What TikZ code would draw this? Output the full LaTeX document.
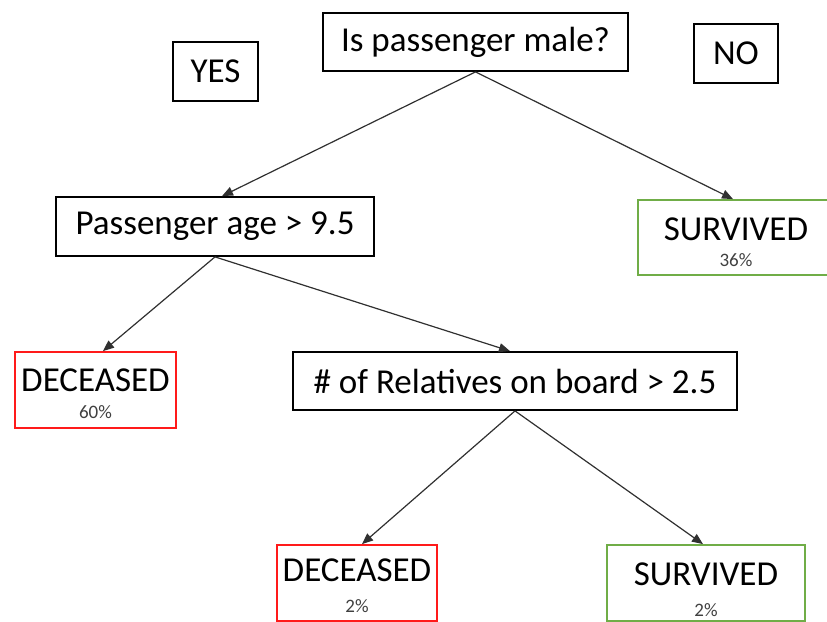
\documentclass[tikz,border=0pt]{standalone}
\usepackage{fontspec}
\setmainfont{Carlito}
\usetikzlibrary{arrows.meta}
\definecolor{boxred}{HTML}{FF1A1A}
\definecolor{boxgreen}{HTML}{70AD47}
\definecolor{pctgray}{HTML}{404040}
\definecolor{linegray}{HTML}{303030}
\tikzset{
  qbox/.style={draw=black, line width=1.8pt, inner sep=0pt, align=center,
    font=\fontsize{35}{37}\selectfont},
  leafred/.style={draw=boxred, line width=1.8pt, inner sep=0pt},
  leafgreen/.style={draw=boxgreen, line width=1.8pt, inner sep=0pt},
  leaftxt/.style={anchor=base, inner sep=0pt, font=\fontsize{35}{37}\selectfont},
  pcttxt/.style={anchor=base, inner sep=0pt, text=pctgray, font=\fontsize{19}{20}\selectfont},
  conn/.style={draw=linegray, line width=1.2pt, -{Triangle[length=11pt,width=9pt]}}
}
\begin{document}
\begin{tikzpicture}[x=1pt,y=-1pt]
\useasboundingbox (0,0) rectangle (827,621);
% question boxes
\node[qbox, minimum width=305pt, minimum height=58pt] (root) at (475.5,42) {Is passenger male?};
\node[qbox, minimum width=85pt, minimum height=59pt] (yes) at (215.5,71.5) {YES};
\node[qbox, minimum width=84pt, minimum height=59pt] (no) at (736,53.5) {NO};
\node[qbox, minimum width=318pt, minimum height=59pt] (pass) at (215,226.5) {Passenger age > 9.5};
\node[qbox, minimum width=444pt, minimum height=58pt] (rel) at (515,381) {\# of Relatives on board > 2.5};
% leaf boxes
\node[leafred, minimum width=161pt, minimum height=76pt] (dec60) at (95.5,390) {};
\node[leaftxt] (dec60t) at (95.5,391) {DECEASED};
\node[pcttxt] (dec60p) at (95.5,418) {60\%};
\node[leafgreen, minimum width=196pt, minimum height=75pt] (surv36) at (736,237.5) {};
\node[leaftxt] (surv36t) at (736,240) {SURVIVED};
\node[pcttxt] (surv36p) at (736,266) {36\%};
\node[leafred, minimum width=160pt, minimum height=76pt] (dec2) at (357,583) {};
\node[leaftxt] (dec2t) at (357,581) {DECEASED};
\node[pcttxt] (dec2p) at (357,612) {2\%};
\node[leafgreen, minimum width=198pt, minimum height=76pt] (surv2) at (706,583) {};
\node[leaftxt] (surv2t) at (706,585) {SURVIVED};
\node[pcttxt] (surv2p) at (706,616) {2\%};
% connectors
\draw[conn] (root.south) -- ([xshift=7pt]pass.north);
\draw[conn] (root.south) -- ([xshift=-3pt]surv36.north);
\draw[conn] (pass.south) -- ([xshift=7.5pt]dec60.north);
\draw[conn] (pass.south) -- ([xshift=-5pt]rel.north);
\draw[conn] (rel.south) -- ([xshift=5pt]dec2.north);
\draw[conn] (rel.south) -- ([xshift=-3pt]surv2.north);
\end{tikzpicture}
\end{document}
